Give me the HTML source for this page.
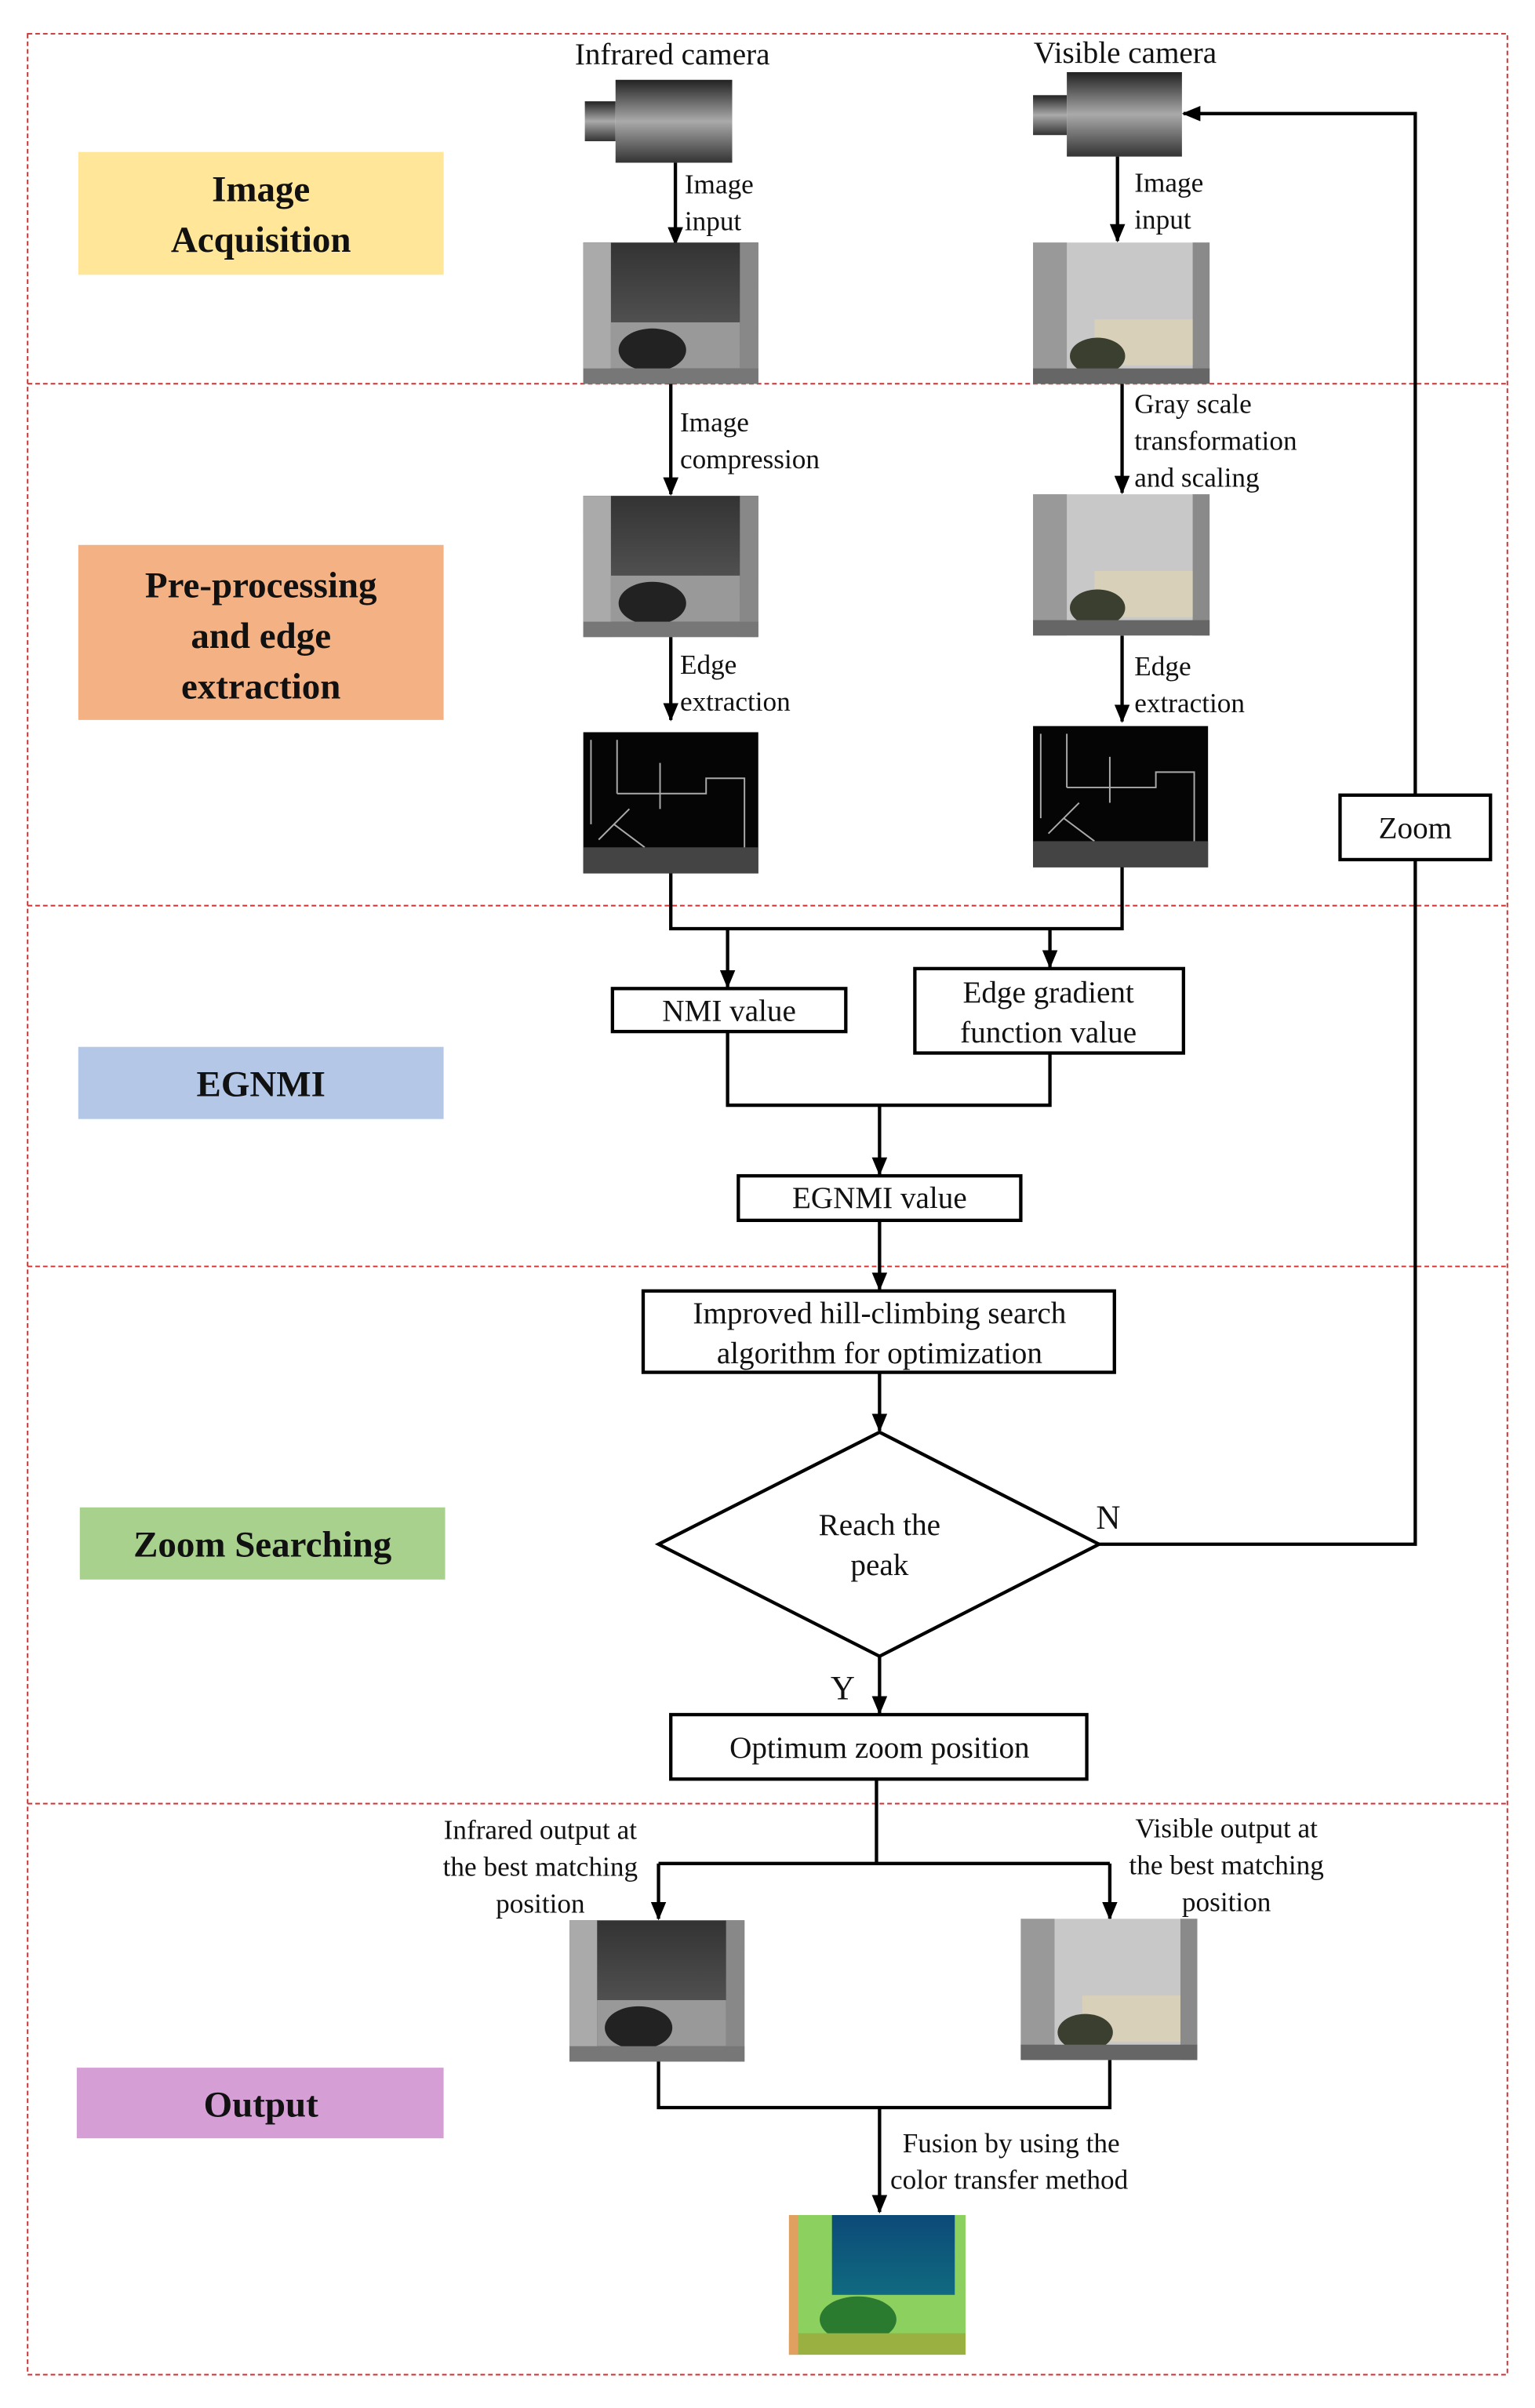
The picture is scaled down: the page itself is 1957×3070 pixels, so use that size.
<!DOCTYPE html>
<html><head><meta charset="utf-8"><style>
html,body{margin:0;padding:0;background:#fff}
svg{display:block}
svg text{font-family:"Liberation Serif","Times New Roman",Times,serif;fill:#111}
</style></head><body>
<svg width="1957" height="3070" viewBox="0 0 1000 1568.7" preserveAspectRatio="none" xmlns="http://www.w3.org/2000/svg" font-family="'Liberation Serif', 'Times New Roman', serif">
<defs>
<marker id="ah" markerWidth="12" markerHeight="10" refX="11" refY="5" orient="auto" markerUnits="userSpaceOnUse" viewBox="0 0 12 10"><path d="M0,0 L12,5 L0,10 z" fill="#000"/></marker>
<linearGradient id="cam" x1="0" y1="0" x2="0" y2="1"><stop offset="0" stop-color="#222"/><stop offset="0.5" stop-color="#aaa"/><stop offset="1" stop-color="#333"/></linearGradient>
<linearGradient id="irsky" x1="0" y1="0" x2="0" y2="1"><stop offset="0" stop-color="#333"/><stop offset="1" stop-color="#666"/></linearGradient>
<linearGradient id="fs" x1="0" y1="0" x2="0" y2="1"><stop offset="0" stop-color="#0c4a78"/><stop offset="1" stop-color="#106a80"/></linearGradient>
<g id="ir">
<rect x="0" y="0" width="114" height="92" fill="url(#irsky)"/>
<rect x="0" y="0" width="18" height="92" fill="#aaa"/>
<rect x="102" y="0" width="12" height="92" fill="#888"/>
<rect x="18" y="52" width="84" height="30" fill="#999"/>
<ellipse cx="45" cy="70" rx="22" ry="14" fill="#222"/>
<rect x="0" y="82" width="114" height="10" fill="#777"/>
</g>
<g id="vis">
<rect x="0" y="0" width="115" height="92" fill="#c8c8c8"/>
<rect x="0" y="0" width="22" height="92" fill="#999"/>
<rect x="104" y="0" width="11" height="92" fill="#8a8a8a"/>
<rect x="40" y="50" width="64" height="30" fill="#d8d0b8"/>
<ellipse cx="42" cy="74" rx="18" ry="12" fill="#3a3f30"/>
<rect x="0" y="82" width="115" height="10" fill="#666"/>
</g>
<g id="edge">
<rect x="0" y="0" width="114" height="92" fill="#050505"/>
<path d="M5,5 V60 M22,5 V40 M22,40 H80 V30 H105 V80 M50,20 V50 M5,80 H110 M10,70 L30,50 M20,60 L40,75" stroke="#aaa" stroke-width="1" fill="none"/>
<rect x="0" y="75" width="114" height="17" fill="#444"/>
</g>
</defs>

<g stroke="#d03030" stroke-width="1" stroke-dasharray="3,2" fill="none">
<rect x="18" y="22" width="964" height="1525"/>
<line x1="18" y1="250" x2="982" y2="250"/>
<line x1="18" y1="590" x2="982" y2="590"/>
<line x1="18" y1="825" x2="982" y2="825"/>
<line x1="18" y1="1175" x2="982" y2="1175"/>
</g>

<rect x="51" y="99" width="238" height="80" fill="#ffe699"/>
<text x="170" y="131" font-size="24" font-weight="bold" text-anchor="middle">Image</text>
<text x="170" y="164" font-size="24" font-weight="bold" text-anchor="middle">Acquisition</text>
<rect x="51" y="355" width="238" height="114" fill="#f4b183"/>
<text x="170" y="389" font-size="24" font-weight="bold" text-anchor="middle">Pre-processing</text>
<text x="170" y="422" font-size="24" font-weight="bold" text-anchor="middle">and edge</text>
<text x="170" y="455" font-size="24" font-weight="bold" text-anchor="middle">extraction</text>
<rect x="51" y="682" width="238" height="47" fill="#b4c7e7"/>
<text x="170" y="714" font-size="24" font-weight="bold" text-anchor="middle">EGNMI</text>
<rect x="52" y="982" width="238" height="47" fill="#a9d18e"/>
<text x="171" y="1014" font-size="24" font-weight="bold" text-anchor="middle">Zoom Searching</text>
<rect x="50" y="1347" width="239" height="46" fill="#d59fd5"/>
<text x="170" y="1379" font-size="24" font-weight="bold" text-anchor="middle">Output</text>

<text x="438" y="42" font-size="20" text-anchor="middle">Infrared camera</text>
<text x="733" y="41" font-size="20" text-anchor="middle">Visible camera</text>
<rect x="381" y="66" width="20" height="26" fill="url(#cam)"/>
<rect x="401" y="52" width="76" height="54" fill="url(#cam)"/>
<rect x="673" y="62" width="22" height="26" fill="url(#cam)"/>
<rect x="695" y="47" width="75" height="55" fill="url(#cam)"/>

<g stroke="#000" stroke-width="2.2" fill="none" marker-end="url(#ah)">
<line x1="440" y1="106" x2="440" y2="159"/>
<line x1="728" y1="102" x2="728" y2="157"/>
<line x1="437" y1="250" x2="437" y2="322"/>
<line x1="731" y1="250" x2="731" y2="321"/>
<line x1="437" y1="415" x2="437" y2="469"/>
<line x1="731" y1="414" x2="731" y2="470"/>
<line x1="474" y1="605" x2="474" y2="643"/>
<line x1="684" y1="605" x2="684" y2="630"/>
<line x1="573" y1="720" x2="573" y2="765"/>
<line x1="573" y1="795" x2="573" y2="840"/>
<line x1="573" y1="894" x2="573" y2="932"/>
<line x1="573" y1="1079" x2="573" y2="1116"/>
<line x1="429" y1="1214" x2="429" y2="1250"/>
<line x1="723" y1="1214" x2="723" y2="1250"/>
<line x1="573" y1="1373" x2="573" y2="1441"/>
<polyline points="716,1006 922,1006 922,74 771,74"/>
</g>
<g stroke="#000" stroke-width="2.2" fill="none">
<polyline points="437,569 437,605 731,605 731,564"/>
<polyline points="474,672 474,720 684,720 684,686"/>
<line x1="571" y1="1159" x2="571" y2="1214"/>
<line x1="429" y1="1214" x2="723" y2="1214"/>
<polyline points="429,1342 429,1373 723,1373 723,1341"/>
</g>

<use href="#ir" x="380" y="158"/>
<use href="#vis" x="673" y="158"/>
<use href="#ir" x="380" y="323"/>
<use href="#vis" x="673" y="322"/>
<use href="#edge" x="380" y="477"/>
<use href="#edge" x="673" y="473"/>
<use href="#ir" x="371" y="1251"/>
<use href="#vis" x="665" y="1250"/>
<g transform="translate(514,1443)">
<rect width="115" height="91" fill="#8cd060"/>
<rect x="28" y="0" width="80" height="52" fill="url(#fs)"/>
<ellipse cx="45" cy="68" rx="25" ry="15" fill="#2a7a30"/>
<rect x="0" y="77" width="115" height="14" fill="#9ab040"/>
<rect x="0" y="0" width="6" height="91" fill="#e0a060"/>
</g>

<g font-size="18">
<text x="446" y="126">Image</text><text x="446" y="150">input</text>
<text x="739" y="125">Image</text><text x="739" y="149">input</text>
<text x="443" y="281">Image</text><text x="443" y="305">compression</text>
<text x="739" y="269">Gray scale</text><text x="739" y="293">transformation</text><text x="739" y="317">and scaling</text>
<text x="443" y="439">Edge</text><text x="443" y="463">extraction</text>
<text x="739" y="440">Edge</text><text x="739" y="464">extraction</text>
<text x="352" y="1198" text-anchor="middle">Infrared output at</text>
<text x="352" y="1222" text-anchor="middle">the best matching</text>
<text x="352" y="1246" text-anchor="middle">position</text>
<text x="799" y="1197" text-anchor="middle">Visible output at</text>
<text x="799" y="1221" text-anchor="middle">the best matching</text>
<text x="799" y="1245" text-anchor="middle">position</text>
<text x="588" y="1402">Fusion by using the</text>
<text x="580" y="1426">color transfer method</text>
</g>

<g stroke="#000" stroke-width="2.2" fill="#fff">
<rect x="873" y="518" width="98" height="42"/>
<rect x="399" y="644" width="152" height="28"/>
<rect x="596" y="631" width="175" height="55"/>
<rect x="481" y="766" width="184" height="29"/>
<rect x="419" y="841" width="307" height="53"/>
<polygon points="573,933 716,1006 573,1079 429,1006"/>
<rect x="437" y="1117" width="271" height="42"/>
</g>
<g font-size="20" text-anchor="middle">
<text x="922" y="546">Zoom</text>
<text x="475" y="665">NMI value</text>
<text x="683" y="653">Edge gradient</text>
<text x="683" y="679">function value</text>
<text x="573" y="787">EGNMI value</text>
<text x="573" y="862">Improved hill-climbing search</text>
<text x="573" y="888">algorithm for optimization</text>
<text x="573" y="1000">Reach the</text>
<text x="573" y="1026">peak</text>
<text x="573" y="1145">Optimum zoom position</text>
<text x="722" y="996" font-size="22">N</text>
<text x="549" y="1107" font-size="22">Y</text>
</g>
</svg>
</body></html>
